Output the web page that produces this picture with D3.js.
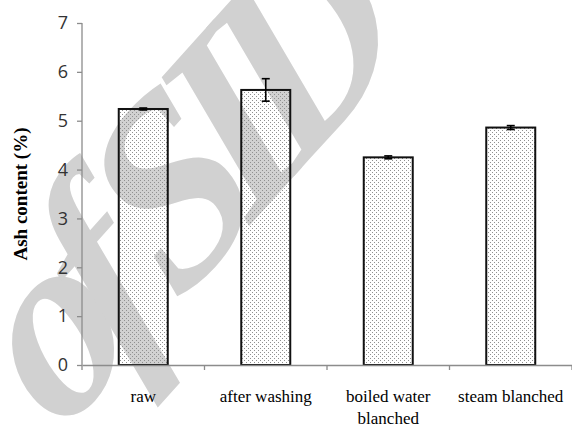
<!DOCTYPE html>
<html>
<head>
<meta charset="utf-8">
<script src="https://cdn.jsdelivr.net/npm/d3@7"></script>
<style>
  body { margin: 0; background: #fff; }
  svg { display: block; }
</style>
</head>
<body>
<div id="chart"></div>
<script>
// data
const categories = ['raw', 'after washing', 'boiled water blanched', 'steam blanched'];
const labelLines = [['raw'], ['after washing'], ['boiled water', 'blanched'], ['steam blanched']];
const ashValues = [5.24, 5.63, 4.25, 4.86];
const ashErrors = [0.02, 0.23, 0.03, 0.04];
const yTicks = [0, 1, 2, 3, 4, 5, 6, 7];

const width = 572, height = 429;
const margin = {top: 23, right: 0, bottom: 64, left: 82};

const svg = d3.select('#chart')
  .append('svg')
  .attr('width', width)
  .attr('height', height);

// stipple fill used for the bars
const defs = svg.append('defs');
const pat = defs.append('pattern')
  .attr('id', 'dots')
  .attr('patternUnits', 'userSpaceOnUse')
  .attr('width', 4)
  .attr('height', 4);
pat.append('rect').attr('x', 0).attr('y', 0).attr('width', 1).attr('height', 1).attr('fill', '#909090');
pat.append('rect').attr('x', 2).attr('y', 2).attr('width', 1).attr('height', 1).attr('fill', '#909090');

// watermark
svg.append('text')
  .attr('transform', 'translate(60,436) scale(1,1.15) rotate(-44)')
  .attr('font-family', 'Liberation Serif, serif')
  .attr('font-style', 'italic')
  .attr('font-weight', 'bold')
  .attr('font-size', 235)
  .attr('letter-spacing', -30)
  .attr('fill', '#d1d1d1')
  .text('of SID');

const x = d3.scaleBand()
  .domain(categories)
  .range([margin.left, width - margin.right])
  .paddingInner(0.6)
  .paddingOuter(0.3);

const y = d3.scaleLinear()
  .domain([0, 7])
  .range([height - margin.bottom, margin.top]);

// y axis
const yAxis = svg.append('g')
  .attr('transform', `translate(${margin.left},0)`)
  .call(d3.axisLeft(y).tickValues(yTicks).tickSize(5).tickPadding(9).tickFormat(d3.format('d')));
yAxis.selectAll('line, path').attr('stroke', '#8c8c8c').attr('stroke-width', 1.3);
yAxis.select('.domain').attr('d', `M0,${y(0)}V${y(7)}`);
yAxis.selectAll('text')
  .attr('font-family', 'Open Sans, sans-serif')
  .attr('font-size', 18)
  .attr('fill', '#333');

// bars
svg.append('g')
  .selectAll('rect')
  .data(ashValues)
  .join('rect')
  .attr('x', (d, i) => x(categories[i]))
  .attr('y', d => y(d))
  .attr('width', x.bandwidth())
  .attr('height', d => y(0) - y(d))
  .attr('fill', 'url(#dots)')
  .attr('stroke', '#111')
  .attr('stroke-width', 2);

// error bars
const err = svg.append('g')
  .attr('stroke', '#000')
  .attr('stroke-width', 1.6)
  .selectAll('g')
  .data(ashValues)
  .join('g')
  .attr('transform', (d, i) => `translate(${x(categories[i]) + x.bandwidth() / 2},0)`);
err.append('line')
  .attr('y1', (d, i) => y(d + ashErrors[i]))
  .attr('y2', (d, i) => y(d - ashErrors[i]));
err.append('line')
  .attr('x1', -4).attr('x2', 4)
  .attr('y1', (d, i) => y(d + ashErrors[i]))
  .attr('y2', (d, i) => y(d + ashErrors[i]));
err.append('line')
  .attr('x1', -4).attr('x2', 4)
  .attr('y1', (d, i) => y(d - ashErrors[i]))
  .attr('y2', (d, i) => y(d - ashErrors[i]));

// x axis with ticks at category boundaries
const xAxis = svg.append('g')
  .attr('transform', `translate(0,${y(0)})`)
  .call(d3.axisBottom(x).tickSize(0).tickPadding(0));
xAxis.select('.domain').attr('stroke', '#8c8c8c').attr('stroke-width', 1.3);
xAxis.selectAll('.tick text').remove();
const bounds = categories.map(c => x(c) - x.step() * x.paddingOuter()).concat([width - margin.right]);
xAxis.selectAll('.bound')
  .data(bounds)
  .join('line')
  .attr('class', 'bound')
  .attr('x1', d => d).attr('x2', d => d)
  .attr('y1', 0).attr('y2', 5)
  .attr('stroke', '#8c8c8c')
  .attr('stroke-width', 1.3);

xAxis.selectAll('.lab')
  .data(categories)
  .join('text')
  .attr('class', 'lab')
  .attr('x', d => x(d) + x.bandwidth() / 2)
  .attr('y', 37)
  .attr('text-anchor', 'middle')
  .attr('font-family', 'Liberation Serif, serif')
  .attr('font-size', 17)
  .attr('fill', '#000')
  .selectAll('tspan')
  .data((d, i) => labelLines[i])
  .join('tspan')
  .attr('x', function() { return this.parentNode.getAttribute('x'); })
  .attr('dy', (d, j) => j === 0 ? 0 : 22)
  .text(d => d);

// y axis title
svg.append('text')
  .attr('transform', `translate(27,${(y(0) + y(7)) / 2}) rotate(-90)`)
  .attr('text-anchor', 'middle')
  .attr('font-family', 'Liberation Serif, serif')
  .attr('font-weight', 'bold')
  .attr('font-size', 19)
  .attr('fill', '#000')
  .text('Ash content (%)');
</script>
</body>
</html>
